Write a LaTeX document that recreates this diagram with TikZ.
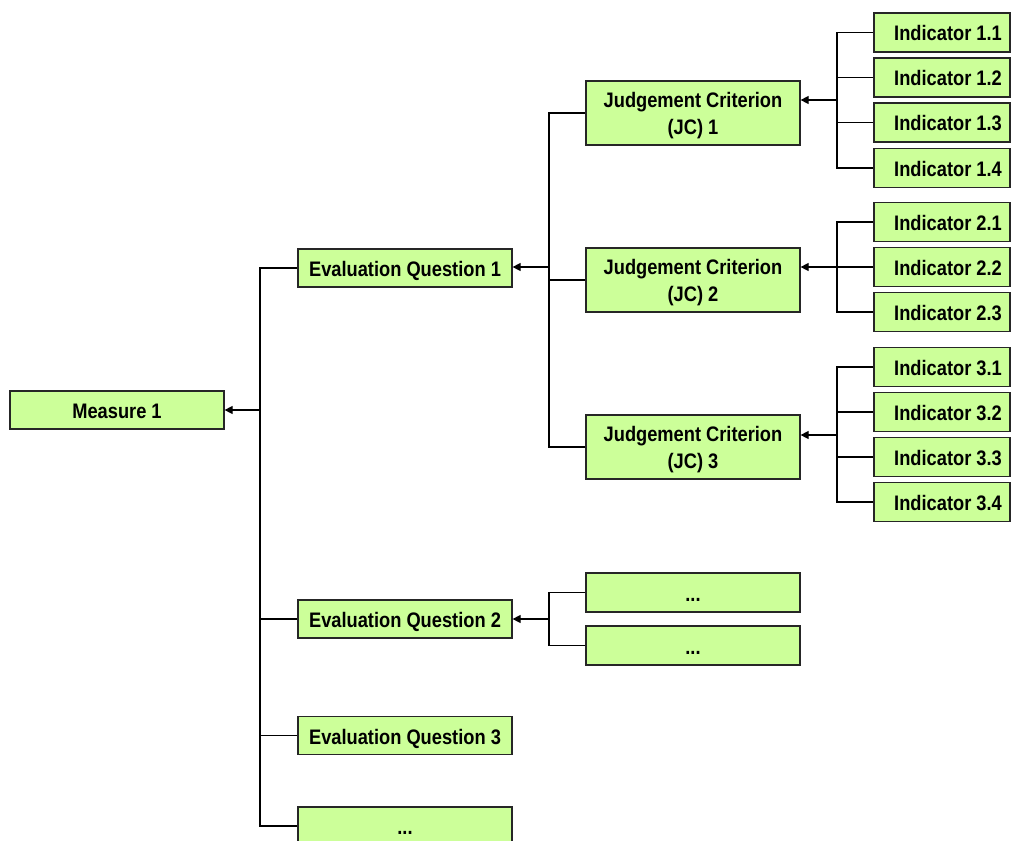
\documentclass[tikz,border=0pt]{standalone}
\usepackage{fontspec}
\setmainfont{Liberation Sans}[FakeStretch=0.87]
\usetikzlibrary{arrows.meta}
\definecolor{boxgreen}{HTML}{CCFF99}
\newcommand{\twolines}[2]{\raisebox{-3pt}[\height][\depth]{\begin{tabular}{@{}c@{}}#1\\#2\end{tabular}}}
\begin{document}
\begin{tikzpicture}[x=1pt,y=-1pt,
  box/.style={draw=black!85, line width=1.2pt, fill=boxgreen,
    font=\bfseries\fontsize{21}{27}\selectfont, inner sep=0pt,
    text height=21pt, text depth=4pt,
    minimum width=214pt, minimum height=38pt},
  jcbox/.style={draw=black!85, line width=1.2pt, fill=boxgreen,
    font=\bfseries\fontsize{21}{27}\selectfont, inner sep=0pt,
    minimum width=214pt, minimum height=64pt},
  indbox/.style={box, minimum width=136pt, minimum height=39pt},
  conn/.style={draw=black, line width=1.2pt},
  arr/.style={conn, -{Triangle[length=8pt,width=8pt]}}]
\useasboundingbox (0,0) rectangle (1011,840);
\clip (0,0) rectangle (1011,840);

% main boxes
\node[box] (m) at (117,410) {Measure 1};
\node[box] (eq1) at (405,268) {Evaluation Question 1};
\node[box] (eq2) at (405,619) {Evaluation Question 2};
\node[box] (eq3) at (405,735.5) {Evaluation Question 3};
\node[box] (eq4) at (405,826) {...};

\node[jcbox] (jc1) at (693,113) {\twolines{Judgement Criterion}{(JC) 1}};
\node[jcbox] (jc2) at (693,280) {\twolines{Judgement Criterion}{(JC) 2}};
\node[jcbox] (jc3) at (693,447) {\twolines{Judgement Criterion}{(JC) 3}};

\node[box, minimum height=39pt] (d1) at (693,592.5) {...};
\node[box, minimum height=39pt] (d2) at (693,645.5) {...};

% indicators
\node[indbox] (i11) at (942,32.5) {\hspace*{12pt}Indicator 1.1};
\node[indbox] (i12) at (942,77.5) {\hspace*{12pt}Indicator 1.2};
\node[indbox] (i13) at (942,122.5) {\hspace*{12pt}Indicator 1.3};
\node[indbox] (i14) at (942,168) {\hspace*{12pt}Indicator 1.4};

\node[indbox] (i21) at (942,222) {\hspace*{12pt}Indicator 2.1};
\node[indbox] (i22) at (942,267) {\hspace*{12pt}Indicator 2.2};
\node[indbox] (i23) at (942,312) {\hspace*{12pt}Indicator 2.3};

\node[indbox] (i31) at (942,367) {\hspace*{12pt}Indicator 3.1};
\node[indbox] (i32) at (942,412) {\hspace*{12pt}Indicator 3.2};
\node[indbox] (i33) at (942,457) {\hspace*{12pt}Indicator 3.3};
\node[indbox] (i34) at (942,502) {\hspace*{12pt}Indicator 3.4};

% spine coordinates
\coordinate (sm) at (260,410);
\coordinate (se1) at (549,267);
\coordinate (se2) at (549,619);
\coordinate (sj1) at (837,100);
\coordinate (sj2) at (837,267);
\coordinate (sj3) at (837,435);

% Measure level
\draw[arr] (sm) -- (sm -| m.east);
\foreach \n in {eq1,eq2,eq3,eq4} \draw[conn] (\n.west) -| (sm);

% EQ1 level
\draw[arr] (se1) -- (se1 -| eq1.east);
\foreach \n in {jc1,jc2,jc3} \draw[conn] (\n.west) -| (se1);

% EQ2 level
\draw[arr] (se2) -- (se2 -| eq2.east);
\foreach \n in {d1,d2} \draw[conn] (\n.west) -| (se2);

% JC level
\draw[arr] (sj1) -- (sj1 -| jc1.east);
\foreach \n in {i11,i12,i13,i14} \draw[conn] (\n.west) -| (sj1);
\draw[arr] (sj2) -- (sj2 -| jc2.east);
\foreach \n in {i21,i22,i23} \draw[conn] (\n.west) -| (sj2);
\draw[arr] (sj3) -- (sj3 -| jc3.east);
\foreach \n in {i31,i32,i33,i34} \draw[conn] (\n.west) -| (sj3);
\end{tikzpicture}
\end{document}
